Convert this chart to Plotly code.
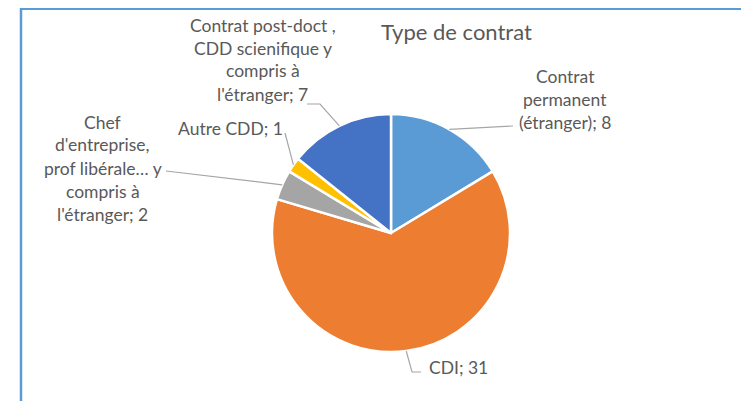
import math
import plotly.graph_objects as go

# ---- data ----
categories = [
    "Contrat permanent (étranger)",
    "CDI",
    "Chef d'entreprise, prof libérale… y compris à l'étranger",
    "Autre CDD",
    "Contrat post-doct , CDD scienifique y compris à l'étranger",
]
values = [8, 31, 2, 1, 7]
label_lines = [
    ["Contrat", "permanent", "(étranger); 8"],
    ["CDI; 31"],
    ["Chef", "d'entreprise,", "prof libérale… y", "compris à", "l'étranger; 2"],
    ["Autre CDD; 1"],
    ["Contrat post-doct ,", "CDD scienifique y", "compris à", "l'étranger; 7"],
]
colors = ["#5B9BD5", "#ED7D31", "#A5A5A5", "#FFC000", "#4472C4"]
title = "Type de contrat"

# ---- layout constants (page pixels) ----
OFF = 8                      # default body margin of the page
W, H = 749 - OFF, 401 - OFF  # figure size
cx, cy, R = 391, 233, 119
FONT = "Lato"
TXT = "#595959"
LINE_H = 23
LABEL_SIZE = 17.5
# (x, first-line y, anchor)
label_pos = [(565, 76, "center"), (427, 367, "left"), (103, 122, "center"),
             (230, 128, "center"), (263, 25, "center")]
leader_pts = [
    [(513, 126)],
    [(421, 372), (412, 372)],
    [(166, 171)],
    [(285, 133)],
    [(307, 104), (320, 104)],
]


def px(x):
    return (x - OFF) / W


def py(y):
    return 1 - (y - OFF) / H


fig = go.Figure(
    go.Pie(
        labels=categories,
        values=values,
        sort=False,
        direction="clockwise",
        rotation=0,
        marker=dict(colors=colors, line=dict(color="white", width=2.5)),
        textinfo="none",
        hoverinfo="label+value",
        domain=dict(x=[px(cx - R), px(cx + R)], y=[py(cy + R), py(cy - R)]),
        showlegend=False,
    )
)

annotations = []
shapes = []
total = sum(values)
cum = 0
for i, v in enumerate(values):
    mid = (cum + v / 2) / total * 2 * math.pi
    cum += v
    ex = cx + R * math.sin(mid)
    ey = cy - R * math.cos(mid)
    pts = leader_pts[i] + [(ex, ey)]
    path = "M " + " L ".join(f"{px(x)},{py(y)}" for x, y in pts)
    shapes.append(dict(type="path", xref="paper", yref="paper", path=path,
                       line=dict(color="#A6A6A6", width=1.2)))
    lx, ly, anchor = label_pos[i]
    for k, t in enumerate(label_lines[i]):
        annotations.append(dict(
            text=t, x=px(lx), y=py(ly + k * LINE_H), xref="paper", yref="paper",
            xanchor=anchor, yanchor="middle", showarrow=False,
            font=dict(family=FONT, size=LABEL_SIZE, color=TXT)))

annotations.append(dict(text=title, x=px(456), y=py(31), xref="paper", yref="paper",
                        xanchor="center", yanchor="middle", showarrow=False,
                        font=dict(family=FONT, size=22, color=TXT)))

# chart-area border (top and left edges visible)
shapes.append(dict(type="line", xref="paper", yref="paper", x0=px(21), y0=py(9),
                   x1=1, y1=py(9), line=dict(color="#5B9BD5", width=2)))
shapes.append(dict(type="line", xref="paper", yref="paper", x0=px(21), y0=py(8),
                   x1=px(21), y1=0, line=dict(color="#5B9BD5", width=2.5)))

fig.update_layout(
    width=W, height=H,
    margin=dict(l=0, r=0, t=0, b=0),
    paper_bgcolor="white", plot_bgcolor="white",
    annotations=annotations, shapes=shapes,
)
fig.write_html("out.html")
